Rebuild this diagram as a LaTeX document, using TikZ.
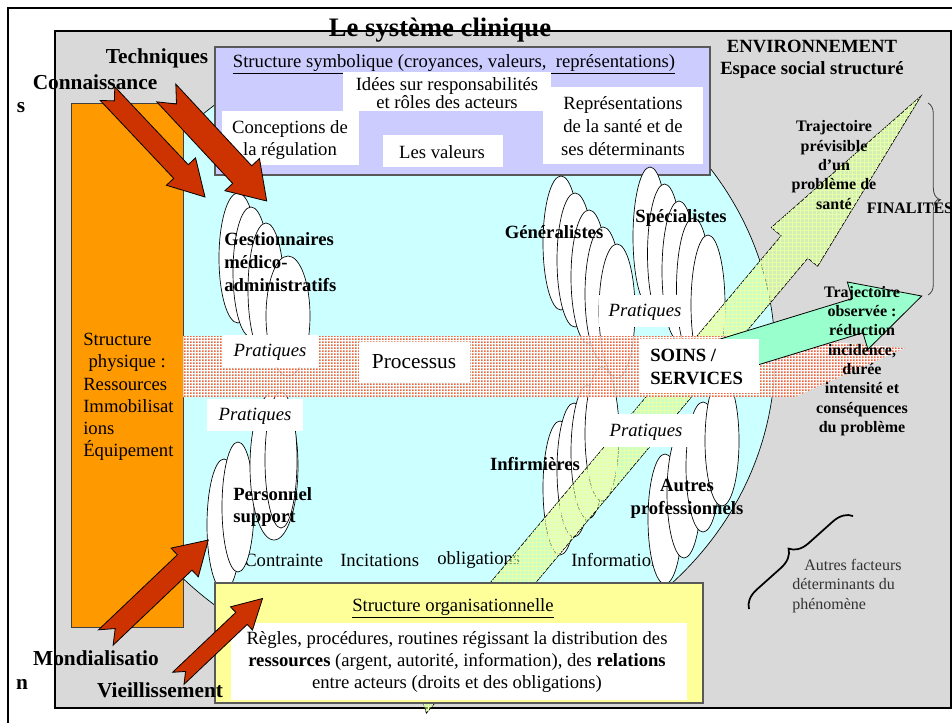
\documentclass[tikz,border=0pt]{standalone}
\usepackage{fontspec}
\setmainfont{Liberation Serif}
\usetikzlibrary{patterns, decorations.pathreplacing}

\definecolor{fondgris}{RGB}{217,217,217}
\definecolor{cyanclair}{RGB}{204,255,255}
\definecolor{lilas}{RGB}{204,204,255}
\definecolor{jaunepale}{RGB}{255,255,153}
\definecolor{orangevif}{RGB}{255,153,0}
\definecolor{rougebrique}{RGB}{204,51,0}
\definecolor{vertpomme}{RGB}{204,255,153}
\definecolor{vertgrille}{RGB}{235,255,170}
\definecolor{vertmenthe}{RGB}{153,255,204}
\definecolor{rougepoint}{RGB}{240,60,10}

\pgfdeclarepatternformonly{pointsfins}{\pgfpointorigin}{\pgfqpoint{2pt}{2pt}}{\pgfqpoint{2pt}{2pt}}{%
  \pgfpathrectangle{\pgfpointorigin}{\pgfqpoint{1.4pt}{1.3pt}}\pgfusepath{fill}}

% style, queue x, queue y, pointe x, pointe y, demi-corps, demi-tete, tete, encoche
\newcommand{\grossefleche}[9]{%
  \pgfmathsetmacro{\fang}{-atan2(#5-(#3),#4-(#2))}%
  \pgfmathsetmacro{\flong}{veclen(#4-(#2),#5-(#3))}%
  \pgfmathsetmacro{\fbase}{\flong-#8}%
  \draw[#1,shift={(#2,#3)},rotate=\fang] (0,#6) -- (\fbase,#6) -- (\fbase,#7) -- (\flong,0)
    -- (\fbase,-#7) -- (\fbase,-#6) -- (0,-#6) -- (#9,0) -- cycle;}

\begin{document}
\begin{tikzpicture}[x=0.75pt,y=-0.75pt,
    every node/.style={font=\fontsize{14}{17}\selectfont, inner sep=0pt},
    acteur/.style={draw=black, fill=white, line width=0.5pt},
    etiquette/.style={font=\fontsize{14}{17}\selectfont\bfseries, align=left},
    pratique/.style={font=\fontsize{14}{17}\selectfont\itshape},
    force/.style={font=\fontsize{16}{19}\selectfont\bfseries},
    trajet/.style={font=\fontsize{12}{14.5}\selectfont\bfseries, align=center},
    fleche/.style={draw=black, fill=rougebrique, line width=0.6pt}]
  \useasboundingbox (0,0) rectangle (952,722);
  \draw[line width=1.6pt] (8,740) -- (8,8) -- (970,8);
  \fill[fondgris] (55,31) rectangle (951,708);
  \node[font=\fontsize{20}{24}\selectfont\bfseries] (titre) at (440,30) {Le système clinique};
  \draw[line width=1.6pt] (55,31) rectangle (951,708);
  \node[font=\fontsize{14}{16.5}\selectfont\bfseries, align=center] (environnement) at (812,59) {ENVIRONNEMENT\\Espace social structuré};

  \begin{scope}
    \clip (55,47) rectangle (951,708);
    \draw[fill=cyanclair, line width=0.5pt] (430,355) ellipse [x radius=345, y radius=320];
  \end{scope}
  \draw[fill=orangevif, draw=black!75, line width=0.6pt] (71,103) rectangle (183,627);
  \node[anchor=west, align=left, font=\fontsize{14}{16.7}\selectfont] (physique) at (83,397)
    {Structure\\\hspace*{4pt}physique :\\Ressources\\Immobilisat\\ions\\Équipement};

  % structure symbolique
  \draw[fill=lilas, draw=black!65, line width=1pt] (215,47) rectangle (710,175);
  \node (symbolique) at (454,64) {\underline{Structure symbolique (croyances, valeurs,\ \ représentations)}};
  \fill[white] (343,72) rectangle (551,111);
  \node[align=center, font=\fontsize{14}{13.5}\selectfont] (idees) at (447,93) {Idées sur responsabilités\\et rôles des acteurs};
  \fill[white] (222,111) rectangle (359,165);
  \node[align=center, font=\fontsize{14}{16}\selectfont] (conceptions) at (290,140) {Conceptions de\\la régulation};
  \fill[white] (383,135) rectangle (503,167);
  \node (valeurs) at (442,152) {Les valeurs};
  \fill[white] (543,87) rectangle (703,164);
  \node[align=center] (representations) at (623,126) {Représentations\\de la santé et de\\ses déterminants};

  \node[anchor=west] (contrainte) at (244,560) {Contrainte};
  \node[anchor=west] (incitations) at (340,560) {Incitations};
  \node[anchor=west] (obligations) at (437,560) {obligations};
  \node[anchor=west] (informations) at (571,560) {Informations};

  % acteurs
  \foreach \cx/\cy/\rx/\ry in {238/258/19/65, 251/272/18/65, 266/290/18/67, 288/316/22/60}
    \draw[acteur] (\cx,\cy) ellipse [x radius=\rx, y radius=\ry];
  \foreach \cx/\cy/\rx/\ry in {224/525/17/66, 238/507/16/65, 274/466/24/74, 281/460/16/68}
    \draw[acteur] (\cx,\cy) ellipse [x radius=\rx, y radius=\ry];
  \foreach \i in {0,...,4}
    \draw[acteur] ({561+14*\i},{243+17*\i}) ellipse [x radius=18, y radius=67];
  \foreach \i in {0,...,4}
    \draw[acteur] ({650+14.5*\i},{237+17*\i}) ellipse [x radius=17, y radius=70];
  \foreach \i in {0,...,3}
    \draw[acteur] ({560+14*\i},{488-18*\i}) ellipse [x radius=17, y radius=67];
  \foreach \i in {0,...,3}
    \draw[acteur] ({665+19*\i},{519-26*\i}) ellipse [x radius=17, y radius=65];

  \grossefleche{fill=vertpomme, fill opacity=0.6, draw=black, line width=0.5pt,
    postaction={pattern=grid, pattern color=vertgrille}}{413}{702}{921}{96}{17.4}{30.2}{197}{12}

  % processus
  \path[fill=white, fill opacity=0.8, postaction={pattern=pointsfins, pattern color=rougepoint}]
    (183,336) -- (760,336) -- (905,348) -- (795,397) -- (183,397) -- cycle;

  \grossefleche{fill=vertmenthe, draw=black, line width=0.6pt}{690}{367}{921.7}{296}{17.9}{35.2}{67}{0}

  \fill[white] (223,335) rectangle (318,367);
  \node[pratique] (pratiquesA) at (270,352) {Pratiques};
  \fill[white] (207,399) rectangle (303,431);
  \node[pratique] (pratiquesB) at (255,416) {Pratiques};
  \fill[white] (599,295) rectangle (690,327);
  \node[pratique] (pratiquesC) at (645,312) {Pratiques};
  \fill[white] (599,414) rectangle (696,447);
  \node[pratique] (pratiquesD) at (646,432) {Pratiques};
  \fill[white] (359,342) rectangle (470,382);
  \node[font=\fontsize{16}{19}\selectfont] (processus) at (414,362) {Processus};
  \fill[white] (639,339) rectangle (759,393);
  \node[etiquette, anchor=west] (soins) at (650,367) {SOINS /\\SERVICES};

  \node[etiquette, anchor=west] (gestionnaires) at (224,262) {Gestionnaires\\médico-\\administratifs};
  \node[etiquette, anchor=west] (personnel) at (233,507) {Personnel\\support};
  \node[etiquette] (generalistes) at (554,232) {Généralistes};
  \node[etiquette] (specialistes) at (681,218) {Spécialistes};
  \node[etiquette] (infirmieres) at (535,464) {Infirmières};
  \node[etiquette, align=center] (autrespro) at (687,499) {Autres\\professionnels};

  % structure organisationnelle
  \draw[fill=jaunepale, draw=black!65, line width=1pt] (215,583) rectangle (703,703);
  \node (organisationnelle) at (453,608) {\underline{Structure organisationnelle}};
  \fill[white] (231,623) rectangle (687,700);
  \node[align=center, font=\fontsize{14}{16.5}\selectfont] (regles) at (457,662)
    {Règles, procédures, routines régissant la distribution des\\\textbf{ressources} (argent, autorité, information), des \textbf{relations}\\entre acteurs (droits et des obligations)};

  \node[trajet] (previsible) at (834,165) {Trajectoire\\prévisible\\d’un\\problème de\\santé};
  \node[trajet] (observee) at (862,361) {Trajectoire\\observée :\\réduction\\incidence,\\durée\\intensité et\\conséquences\\du problème};
  \draw[decorate, decoration={brace, amplitude=8pt}, draw=black!75, line width=0.6pt] (928,103) -- (928,295);
  \node[trajet] (finalites) at (910,207) {FINALITÉS};
  \draw[decorate, decoration={brace, amplitude=14pt}, line width=1.3pt] (749,609) -- (853,516);
  \node[anchor=west, align=left, font=\fontsize{12}{14.6}\selectfont, text=black!80] (facteurs) at (792,586)
    {\hspace*{9pt}Autres facteurs\\déterminants du\\phénomène};

  \grossefleche{fleche}{107.5}{93.6}{205}{197}{10}{20}{35}{10}
  \grossefleche{fleche}{166.3}{93}{266.7}{201}{13}{23.6}{36}{15}
  \grossefleche{fleche}{105.8}{637.5}{208.3}{540}{10.6}{19.8}{32.6}{13}
  \grossefleche{fleche}{178.3}{678.3}{262.7}{598.3}{8.3}{16}{29}{10}

  \node[force] (techniques) at (157,58) {Techniques};
  \node[force] (connaissance) at (95,82) {Connaissance};
  \node[force] (connaissanceS) at (21,108) {s};
  \node[force] (mondialisation) at (96,658) {Mondialisatio};
  \node[force] (mondialisationN) at (22,684) {n};
  \node[force] (vieillissement) at (160,690) {Vieillissement};
\end{tikzpicture}
\end{document}
